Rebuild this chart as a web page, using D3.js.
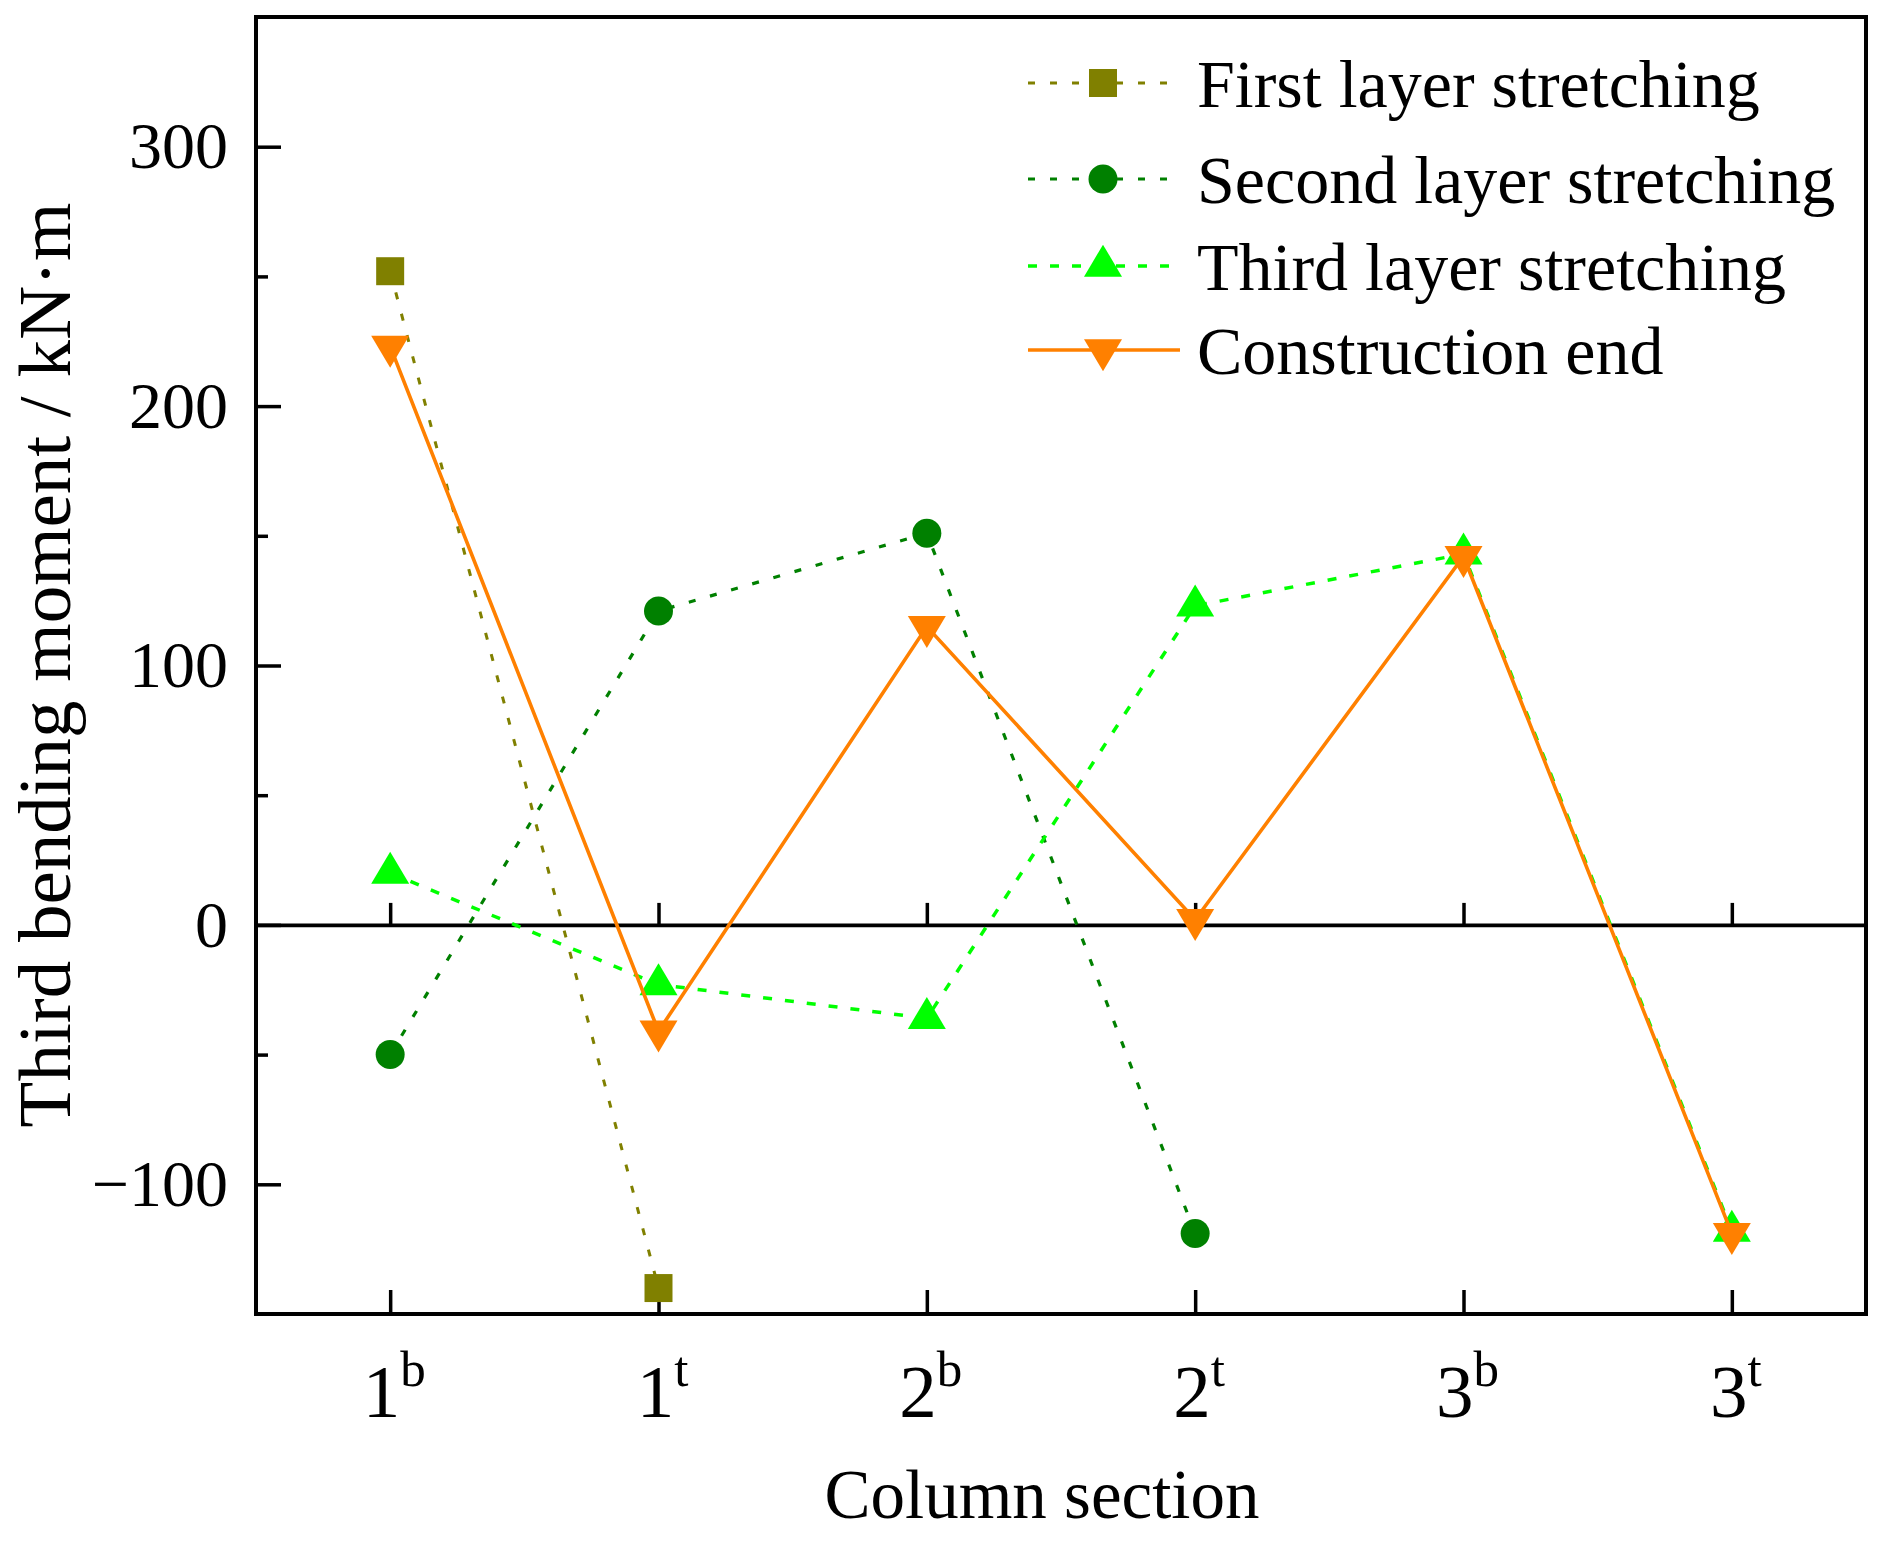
<!DOCTYPE html>
<html><head><meta charset="utf-8">
<script src="https://cdn.jsdelivr.net/npm/d3@7"></script>
<style>
body{margin:0;background:#fff}
svg{display:block}
text{font-family:"Liberation Serif","Times New Roman",serif;fill:#000}
</style>
</head><body>
<svg id="c" width="1886" height="1541"></svg>
<script>
// ---- data ----
const categories = ["1b","1t","2b","2t","3b","3t"];
const catBase = ["1","1","2","2","3","3"];
const catSup = ["b","t","b","t","b","t"];
const firstLayer = [252, -140];
const secondLayer = [-50, 121, 151, -119];
const thirdLayer = [20, -23, -36, 123, 143, -118];
const constructionEnd = [223, -41, 115, 2, 142, -119];
const yTicks = [-100, 0, 100, 200, 300];
const yMinorTicks = [-50, 50, 150, 250];
const seriesNames = ["First layer stretching","Second layer stretching","Third layer stretching","Construction end"];

const series = [
  {name: seriesNames[0], values: firstLayer, color: "#808000", dash: "7,15", width: 3, marker: "square"},
  {name: seriesNames[1], values: secondLayer, color: "#008000", dash: "7,15", width: 3.2, marker: "circle"},
  {name: seriesNames[2], values: thirdLayer, color: "#00FF00", dash: "9,13", width: 3.5, marker: "up"},
  {name: seriesNames[3], values: constructionEnd, color: "#FF8000", dash: null, width: 3.6, marker: "down"}
];

const svg = d3.select("#c");
const L = 256, R = 1866, T = 17, B = 1314;
const x = d3.scaleLinear().domain([0.5, 6.5]).range([L, R]);
const y = d3.scaleLinear().domain([-150, 350]).range([B, T]);

function markerPath(type){
  if (type === "square") { const s = 14; return `M${-s},${-s}H${s}V${s}H${-s}Z`; }
  if (type === "circle") { const r = 14.5; return `M${r},0A${r},${r} 0 1,1 ${-r},0A${r},${r} 0 1,1 ${r},0Z`; }
  const w = 19, h = 32;
  if (type === "up") return `M0,${-2*h/3}L${w},${h/3}L${-w},${h/3}Z`;
  return `M0,${2*h/3}L${w},${-h/3}L${-w},${-h/3}Z`;
}

// zero line with ticks
const gz = svg.append("g").attr("transform", `translate(0,${y(0)})`)
  .call(d3.axisBottom(x).tickValues([1,2,3,4,5,6]).tickSizeInner(-22).tickSizeOuter(0).tickFormat(""));
gz.select(".domain").attr("stroke", "#000").attr("stroke-width", 3.6);
gz.selectAll(".tick line").attr("stroke", "#000").attr("stroke-width", 3.5);

// bottom axis ticks
const gx = svg.append("g").attr("transform", `translate(0,${B})`)
  .call(d3.axisBottom(x).tickValues([1,2,3,4,5,6]).tickSizeInner(-24).tickSizeOuter(0).tickFormat(""));
gx.select(".domain").remove();
gx.selectAll(".tick line").attr("stroke", "#000").attr("stroke-width", 3.5);

// x tick labels with superscripts
categories.forEach((c, i) => {
  const t = svg.append("text").attr("x", x(i + 1) + 4).attr("y", 1417)
    .attr("text-anchor", "middle").attr("font-size", 75);
  t.append("tspan").text(catBase[i]);
  t.append("tspan").attr("font-size", 51).attr("dy", -31).text(catSup[i]);
});

// y axis
const gy = svg.append("g").attr("transform", `translate(${L},0)`)
  .call(d3.axisLeft(y).tickValues(yTicks).tickSize(-25).tickPadding(28)
    .tickFormat(d => d < 0 ? "\u2212" + Math.abs(d) : String(d)));
gy.select(".domain").remove();
gy.selectAll(".tick line").attr("stroke", "#000").attr("stroke-width", 3.5);
gy.selectAll(".tick text").attr("font-size", 66).attr("font-family", "Liberation Serif").attr("fill", "#000");

const gym = svg.append("g").attr("transform", `translate(${L},0)`)
  .call(d3.axisLeft(y).tickValues(yMinorTicks).tickSize(-12).tickFormat(""));
gym.select(".domain").remove();
gym.selectAll(".tick line").attr("stroke", "#000").attr("stroke-width", 3.5);

// frame
svg.append("rect").attr("x", L).attr("y", T).attr("width", R - L).attr("height", B - T)
  .attr("fill", "none").attr("stroke", "#000").attr("stroke-width", 4);

// series
const line = d3.line().x((d, i) => x(i + 1)).y(d => y(d));
series.forEach(s => {
  svg.append("path").datum(s.values).attr("d", line)
    .attr("fill", "none").attr("stroke", s.color).attr("stroke-width", s.width)
    .attr("stroke-dasharray", s.dash);
  svg.append("g").selectAll("path").data(s.values).join("path")
    .attr("d", markerPath(s.marker))
    .attr("transform", (d, i) => `translate(${x(i + 1)},${y(d)})`)
    .attr("fill", s.color);
});

// legend
const legendY = [83, 179, 266, 350];
series.forEach((s, k) => {
  const g = svg.append("g").attr("transform", `translate(0,${legendY[k]})`);
  g.append("line").attr("x1", 1028).attr("x2", s.dash ? 1173 : 1180).attr("y1", 0).attr("y2", 0)
    .attr("stroke", s.color).attr("stroke-width", s.width).attr("stroke-dasharray", s.dash);
  g.append("path").attr("d", markerPath(s.marker)).attr("transform", "translate(1103,0)").attr("fill", s.color);
  g.append("text").attr("x", 1197).attr("y", 24).attr("font-size", 68).text(s.name);
});

// axis titles
svg.append("text").attr("x", 1042).attr("y", 1518).attr("text-anchor", "middle")
  .attr("font-size", 69).text("Column section");
svg.append("text").attr("transform", "translate(70,665) rotate(-90)").attr("text-anchor", "middle")
  .attr("font-size", 75).text("Third bending moment / kN\u00B7m");
</script>
</body></html>
